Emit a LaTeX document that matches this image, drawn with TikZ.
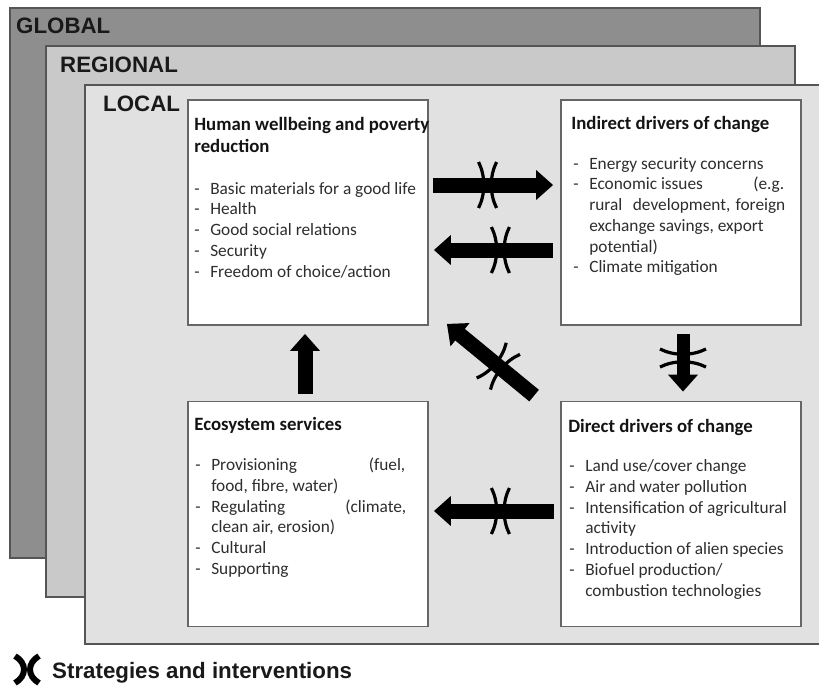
\documentclass[tikz,border=0pt]{standalone}
\usepackage{fontspec}
\setmainfont{Carlito}
\newfontfamily\labelfont{Liberation Sans}
\usetikzlibrary{arrows.meta,calc}
\definecolor{globalfill}{HTML}{8E8E8E}
\definecolor{regionalfill}{HTML}{C9C9C9}
\definecolor{localfill}{HTML}{E1E1E1}
\definecolor{edgegray}{HTML}{555555}
\definecolor{boxedge}{HTML}{666666}
\definecolor{bodytext}{HTML}{2E2E2E}
\newlength{\dashw}\setlength{\dashw}{16pt}
\newcommand{\itm}[1]{\makebox[\dashw][l]{-}#1}
\newcommand{\cnt}[1]{\hspace*{\dashw}#1}
\begin{document}
\begin{tikzpicture}[x=1pt,y=-1pt,
  layer/.style={draw=edgegray,line width=1.8pt},
  lvl/.style={font=\labelfont\bfseries\fontsize{22.3}{26}\selectfont,anchor=base west,inner sep=0pt,text=black!90},
  box/.style={draw=boxedge,line width=1.8pt,fill=white,minimum width=240pt,minimum height=225pt,inner sep=0pt},
  ttl/.style={font=\bfseries\fontsize{18.8}{22}\selectfont,align=left,anchor=north west,inner sep=0pt,text=black!92},
  lst/.style={font=\fontsize{17.3}{20.7}\selectfont,align=left,anchor=north west,inner sep=0pt,text=bodytext},
  blk/.style={line width=15pt,-{Triangle[length=17pt,width=29pt]}},
  xmk/.pic={
    \draw[line width=3.2pt] (-9,-23) .. controls (-2,-9) and (-2,9) .. (-9,23);
    \draw[line width=3.2pt] (9,-23) .. controls (2,-9) and (2,9) .. (9,23);
  }
]
\useasboundingbox (0,0) rectangle (819,689);
% scale layers
\filldraw[layer,fill=globalfill] (10,8) rectangle (760,558);
\filldraw[layer,fill=regionalfill] (46,46) rectangle (795,597);
\filldraw[layer,fill=localfill] (85,85) rectangle (840,644);
\node[lvl] (lglobal) at (16,33) {GLOBAL};
\node[lvl] (lregional) at (60,72) {REGIONAL};
\node[lvl] (llocal) at (103,111) {LOCAL};
% boxes
\node[box] (hw) at (308,212.5) {};
\node[box] (ind) at (681,212.5) {};
\node[box] (eco) at (308,514) {};
\node[box] (dd) at (681,514) {};
% texts
\node[ttl] (hwt) at ([shift={(7pt,-16pt)}]hw.north west) {\strut Human wellbeing and poverty\\reduction};
\node[lst] (hwl) at ([shift={(7pt,-80.5pt)}]hw.north west) {\strut\itm{Basic materials for a good life}\\
\itm{Health}\\
\itm{Good social relations}\\
\itm{Security}\\
\itm{Freedom of choice/action}};
\node[ttl] (indt) at ([shift={(11pt,-15pt)}]ind.north west) {\strut Indirect drivers of change};
\node[lst] (indl) at ([shift={(13pt,-55.5pt)}]ind.north west) {\strut\itm{Energy security concerns}\\
\itm{\makebox[195pt][l]{Economic issues\hfill(e.g.}}\\
\cnt{\makebox[196pt][l]{rural\hspace{0.6em plus 1fill}development,\hspace{0.3em plus 0.3fill}foreign}}\\
\cnt{exchange savings, export}\\
\cnt{potential)}\\
\itm{Climate mitigation}};
\node[ttl] (ecot) at ([shift={(7pt,-14pt)}]eco.north west) {\strut Ecosystem services};
\node[lst] (ecol) at ([shift={(8pt,-55.5pt)}]eco.north west) {\strut\itm{\makebox[194pt][s]{Provisioning (fuel,}}\\
\cnt{food, fibre, water)}\\
\itm{\makebox[195pt][s]{Regulating (climate,}}\\
\cnt{clean air, erosion)}\\
\itm{Cultural}\\
\itm{Supporting}};
\node[ttl] (ddt) at ([shift={(8pt,-16pt)}]dd.north west) {\strut Direct drivers of change};
\node[lst] (ddl) at ([shift={(9pt,-56.5pt)}]dd.north west) {\strut\itm{Land use/cover change}\\
\itm{Air and water pollution}\\
\itm{Intensification of agricultural}\\
\cnt{activity}\\
\itm{Introduction of alien species}\\
\itm{Biofuel production/}\\
\cnt{combustion technologies}};
% connectors
\coordinate (a1s) at ([yshift=27.5pt]hw.east);
\coordinate (a1e) at ([yshift=27.5pt]ind.west);
\coordinate (a2s) at ([yshift=-37.5pt]ind.west);
\coordinate (a2e) at ([yshift=-37.5pt]hw.east);
\coordinate (a3s) at ([xshift=-3pt]eco.north);
\coordinate (a3e) at ([xshift=-3pt]hw.south);
\coordinate (a4s) at ([xshift=2pt]ind.south);
\coordinate (a4e) at ([xshift=2pt]dd.north);
\coordinate (dgs) at ([shift={(-26pt,5pt)}]dd.north west);
\coordinate (dgt) at ([shift={(18pt,2pt)}]hw.south east);
\coordinate (a5s) at ([yshift=3pt]dd.west);
\coordinate (a5e) at ([yshift=3pt]eco.east);
\draw[blk,shorten <=4pt,shorten >=7pt] (a1s) -- (a1e);
\draw[blk,shorten <=7pt,shorten >=5pt] (a2s) -- (a2e);
\draw[blk,shorten <=7pt,shorten >=8pt] (a3s) -- (a3e);
\draw[blk,line width=13pt,shorten <=8pt,shorten >=9pt] (a4s) -- (a4e);
\draw[blk] (dgs) -- (dgt);
\draw[blk,shorten <=6pt,shorten >=5pt] (a5s) -- (a5e);
% strategy marks
\pic at ($(a1s)!0.447!(a1e)$) {xmk};
\pic at ($(a2e)!0.545!(a2s)$) {xmk};
\pic at ($(a5e)!0.545!(a5s)$) {xmk};
\pic[rotate=90] at ($(a4s)!0.43!(a4e)$) {xmk};
\pic[rotate=140] at ($(dgs)!0.41!(dgt)$) {xmk};
% legend
\draw[line width=6pt] (15,656) .. controls (27,663) and (27,676) .. (15,683);
\draw[line width=6pt] (39,656) .. controls (27,663) and (27,676) .. (39,683);
\node[lvl] (legend) at (52,678) {Strategies and interventions};
\end{tikzpicture}
\end{document}
